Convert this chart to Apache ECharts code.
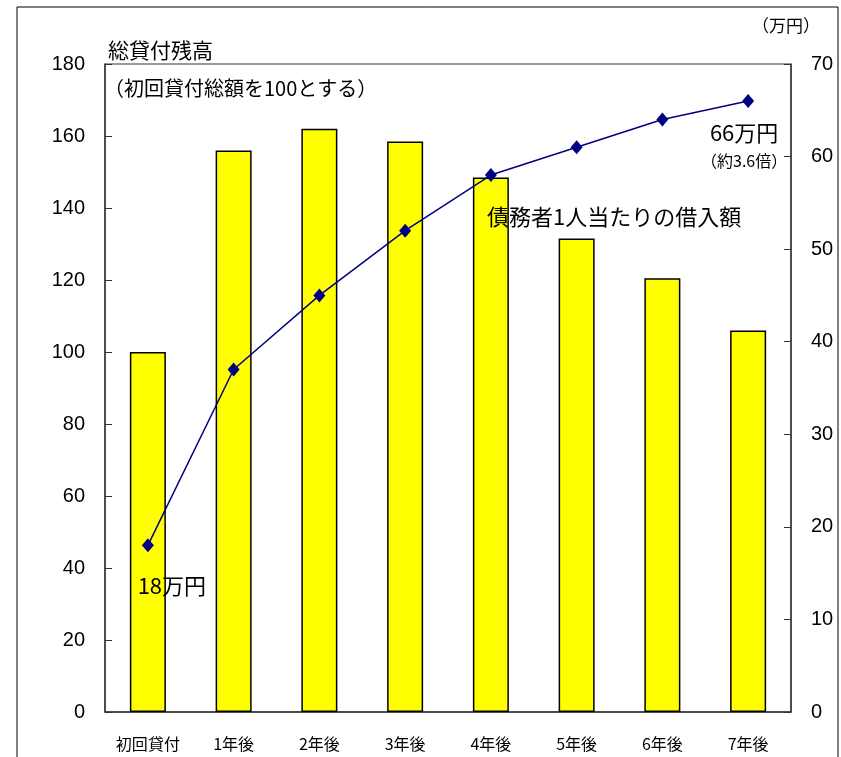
<!DOCTYPE html>
<html>
<head>
<meta charset="UTF-8"/>
<title>総貸付残高と債務者1人当たりの借入額</title>
<script src="https://cdn.jsdelivr.net/npm/echarts@6/dist/echarts.min.js"></script>
<style>
  html, body { margin: 0; padding: 0; background: #fff; }
  #chart { width: 841px; height: 757px; }
</style>
</head>
<body>
<div id="chart"></div>
<script type="text/javascript">
    // 年次カテゴリ
    var categories = ['初回貸付', '1年後', '2年後', '3年後', '4年後', '5年後', '6年後', '7年後'];
    // 総貸付残高（初回=100）
    var balanceIndex = [100, 156, 162, 158.5, 148.5, 131.5, 120.5, 106];
    // 債務者1人当たりの借入額（万円）
    var perDebtor = [18, 37, 45, 52, 58, 61, 64, 66];
    var leftTicks = [0, 180, 20];
    var rightTicks = [0, 70, 10];

    var jp = '"Noto Sans CJK JP", sans-serif';
    var num = '"Liberation Sans", Arial, sans-serif';
    var axisColor = '#333';

    var lineData = perDebtor.map(function(v, i) {
        if (i === 0) {
            return { value: v, label: { show: true, position: 'bottom', offset: [24, 12], formatter: '{b|18万円}' } };
        }
        if (i === perDebtor.length - 1) {
            return { value: v, label: { show: true, position: 'bottom', offset: [-4, 4],
                formatter: '{b|66万円}\n{s|（約3.6倍）}' } };
        }
        return v;
    });

    var chart = echarts.init(document.getElementById('chart'));
    chart.setOption({
        animation: false,
        backgroundColor: '#fff',
        grid: { left: 105, right: 50, top: 64, bottom: 45, show: true, borderColor: axisColor, borderWidth: 1 },
        xAxis: {
            type: 'category',
            data: categories,
            axisLine: { lineStyle: { color: axisColor, width: 1.5 } },
            axisTick: { inside: true, length: 5, lineStyle: { color: axisColor } },
            axisLabel: { color: '#000', fontFamily: jp, fontSize: 16, margin: 24 }
        },
        yAxis: [
            {
                type: 'value', min: leftTicks[0], max: leftTicks[1], interval: leftTicks[2],
                axisLine: { show: true, lineStyle: { color: axisColor, width: 1.5 } },
                axisTick: { show: true, inside: true, length: 7, lineStyle: { color: axisColor } },
                axisLabel: { color: '#000', fontFamily: num, fontSize: 20, margin: 20 },
                splitLine: { show: false }
            },
            {
                type: 'value', min: rightTicks[0], max: rightTicks[1], interval: rightTicks[2],
                axisLine: { show: true, lineStyle: { color: axisColor, width: 1.5 } },
                axisTick: { show: true, inside: true, length: 7, lineStyle: { color: axisColor } },
                axisLabel: { color: '#000', fontFamily: num, fontSize: 20, margin: 20 },
                splitLine: { show: false }
            }
        ],
        series: [
            {
                name: '総貸付残高',
                type: 'bar',
                data: balanceIndex,
                barWidth: 36,
                itemStyle: { color: '#FFFF00', borderColor: '#000', borderWidth: 1.5 }
            },
            {
                name: '債務者1人当たりの借入額',
                type: 'line',
                yAxisIndex: 1,
                data: lineData,
                symbol: 'diamond',
                symbolSize: [12, 14],
                lineStyle: { color: '#000080', width: 1.5 },
                itemStyle: { color: '#000080' },
                label: {
                    color: '#000', fontFamily: jp,
                    rich: {
                        b: { fontFamily: jp, fontSize: 22, color: '#000', lineHeight: 32 },
                        s: { fontFamily: jp, fontSize: 16, color: '#000', lineHeight: 24 }
                    }
                },
                z: 5
            }
        ],
        graphic: [
            { type: 'rect', z: 100, shape: { x: 17, y: 7, width: 821, height: 800 }, style: { fill: 'none', stroke: '#000', lineWidth: 1 }, silent: true },
            { type: 'text', z: 100, left: 108, top: 40, style: { text: '総貸付残高', font: '21px ' + jp, fill: '#000' } },
            { type: 'text', z: 100, left: 104, top: 78, style: { text: '（初回貸付総額を100とする）', font: '20px ' + jp, fill: '#000' } },
            { type: 'text', z: 100, left: 752, top: 17, style: { text: '（万円）', font: '17px ' + jp, fill: '#000' } },
            { type: 'text', z: 100, left: 487, top: 206, style: { text: '債務者1人当たりの借入額', font: '22px ' + jp, fill: '#000' } }
        ]
    });
</script>
</body>
</html>
